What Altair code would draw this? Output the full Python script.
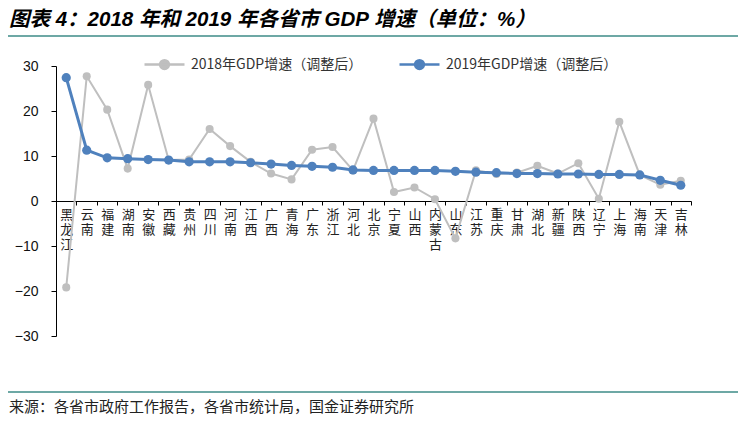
import altair as alt
import pandas as pd

provinces = ["黑龙江", "云南", "福建", "湖南", "安徽", "西藏", "贵州", "四川", "河南", "江西",
             "广西", "青海", "广东", "浙江", "河北", "北京", "宁夏", "山西", "内蒙古", "山东",
             "江苏", "重庆", "甘肃", "湖北", "新疆", "陕西", "辽宁", "上海", "海南", "天津", "吉林"]
gdp2018 = [-19.2, 27.7, 20.3, 7.2, 25.8, 9.1, 9.2, 16.0, 12.2, 8.7,
           6.1, 4.8, 11.4, 12.0, 6.8, 18.3, 2.0, 3.0, 0.4, -8.3,
           6.8, 6.0, 6.3, 7.8, 6.1, 8.4, 0.5, 17.6, 5.8, 3.6, 4.5]
gdp2019 = [27.4, 11.3, 9.6, 9.4, 9.2, 9.1, 8.7, 8.7, 8.7, 8.5,
           8.2, 7.9, 7.7, 7.5, 6.9, 6.8, 6.8, 6.8, 6.8, 6.6,
           6.4, 6.3, 6.1, 6.1, 6.0, 6.0, 5.9, 5.9, 5.8, 4.6, 3.5]
series_names = ["2018年GDP增速（调整后）", "2019年GDP增速（调整后）"]
series_colors = ["#BFBFBF", "#4F81BD"]
y_ticks = [-30, -20, -10, 0, 10, 20, 30]

title_text = "图表 4：2018 年和 2019 年各省市 GDP 增速（单位：%）"
source_text = "来源：各省市政府工作报告，各省市统计局，国金证券研究所"

rows = []
for p, a, b in zip(provinces, gdp2018, gdp2019):
    rows.append({"prov": p, "series": series_names[0], "v": a})
    rows.append({"prov": p, "series": series_names[1], "v": b})
df = pd.DataFrame(rows)

W, H = 635, 270
CJK = "Noto Sans CJK SC"
legend_path = "M-1,0H1M0.22,0A0.22,0.22,0,1,1,-0.22,0A0.22,0.22,0,1,1,0.22,0Z"

color = alt.Color(
    "series:N",
    scale=alt.Scale(domain=series_names, range=series_colors),
    legend=alt.Legend(
        title=None, orient="none", legendX=87, legendY=-23, direction="horizontal",
        symbolType=legend_path, symbolSize=1600, symbolStrokeWidth=2.5,
        labelFont=CJK, labelFontSize=14, labelColor="#333333", labelLimit=400,
        labelOffset=5, columnPadding=31, padding=0,
    ),
)

x = alt.X(
    "prov:N", sort=provinces, bandPosition=0.5,
    scale=alt.Scale(type="band", paddingInner=0, paddingOuter=0),
    axis=alt.Axis(
        title=None, offset=-H / 2, tickBand="extent", labelAngle=0,
        labelExpr="split(datum.label, '')", labelFont=CJK, labelFontSize=13,
        labelLineHeight=15, labelBaseline="top", labelPadding=3, tickSize=4,
        domainColor="#000000", tickColor="#000000", labelColor="#222222",
    ),
)
y = alt.Y(
    "v:Q",
    scale=alt.Scale(domain=[-30, 30], nice=False),
    axis=alt.Axis(
        title=None, values=y_ticks, grid=False, tickSize=5, labelPadding=13,
        labelFont="Liberation Sans", labelFontSize=14, labelColor="#111111",
        domainColor="#000000", tickColor="#000000",
    ),
)

base = alt.Chart(df).encode(x=x, y=y, color=color)

l18 = base.transform_filter(alt.datum.series == series_names[0]).mark_line(strokeWidth=2)
p18 = base.transform_filter(alt.datum.series == series_names[0]).mark_point(filled=True, size=65, opacity=1)
l19 = base.transform_filter(alt.datum.series == series_names[1]).mark_line(strokeWidth=3)
p19 = base.transform_filter(alt.datum.series == series_names[1]).mark_point(filled=True, size=85, opacity=1)

txt = pd.DataFrame({"t": [title_text], "s": [source_text]})
title = alt.Chart(txt).mark_text(
    align="left", baseline="middle", font="Liberation Sans, " + CJK, fontSize=20.5,
    fontWeight="bold", fontStyle="italic", color="#000000",
).encode(text="t:N", x=alt.value(-47), y=alt.value(-46))
source = alt.Chart(txt).mark_text(
    align="left", baseline="middle", font=CJK, fontSize=15, color="#222222",
).encode(text="s:N", x=alt.value(-47), y=alt.value(341))
line_top = alt.Chart(txt).mark_rule(color="#3D8B87", strokeWidth=1.5).encode(
    x=alt.value(-48), x2=alt.value(682), y=alt.value(-30))
line_bot = alt.Chart(txt).mark_rule(color="#3D8B87", strokeWidth=1.5).encode(
    x=alt.value(-48), x2=alt.value(682), y=alt.value(326))

chart = alt.layer(l18, p18, l19, p19, title, source, line_top, line_bot).properties(
    width=W, height=H,
    autosize=alt.AutoSizeParams(type="none"),
    padding={"left": 48, "top": 58, "right": 48, "bottom": 80},
    background="white",
).configure_view(stroke=None)

chart.save("out.html", embed_options={"renderer": "svg", "actions": False})
